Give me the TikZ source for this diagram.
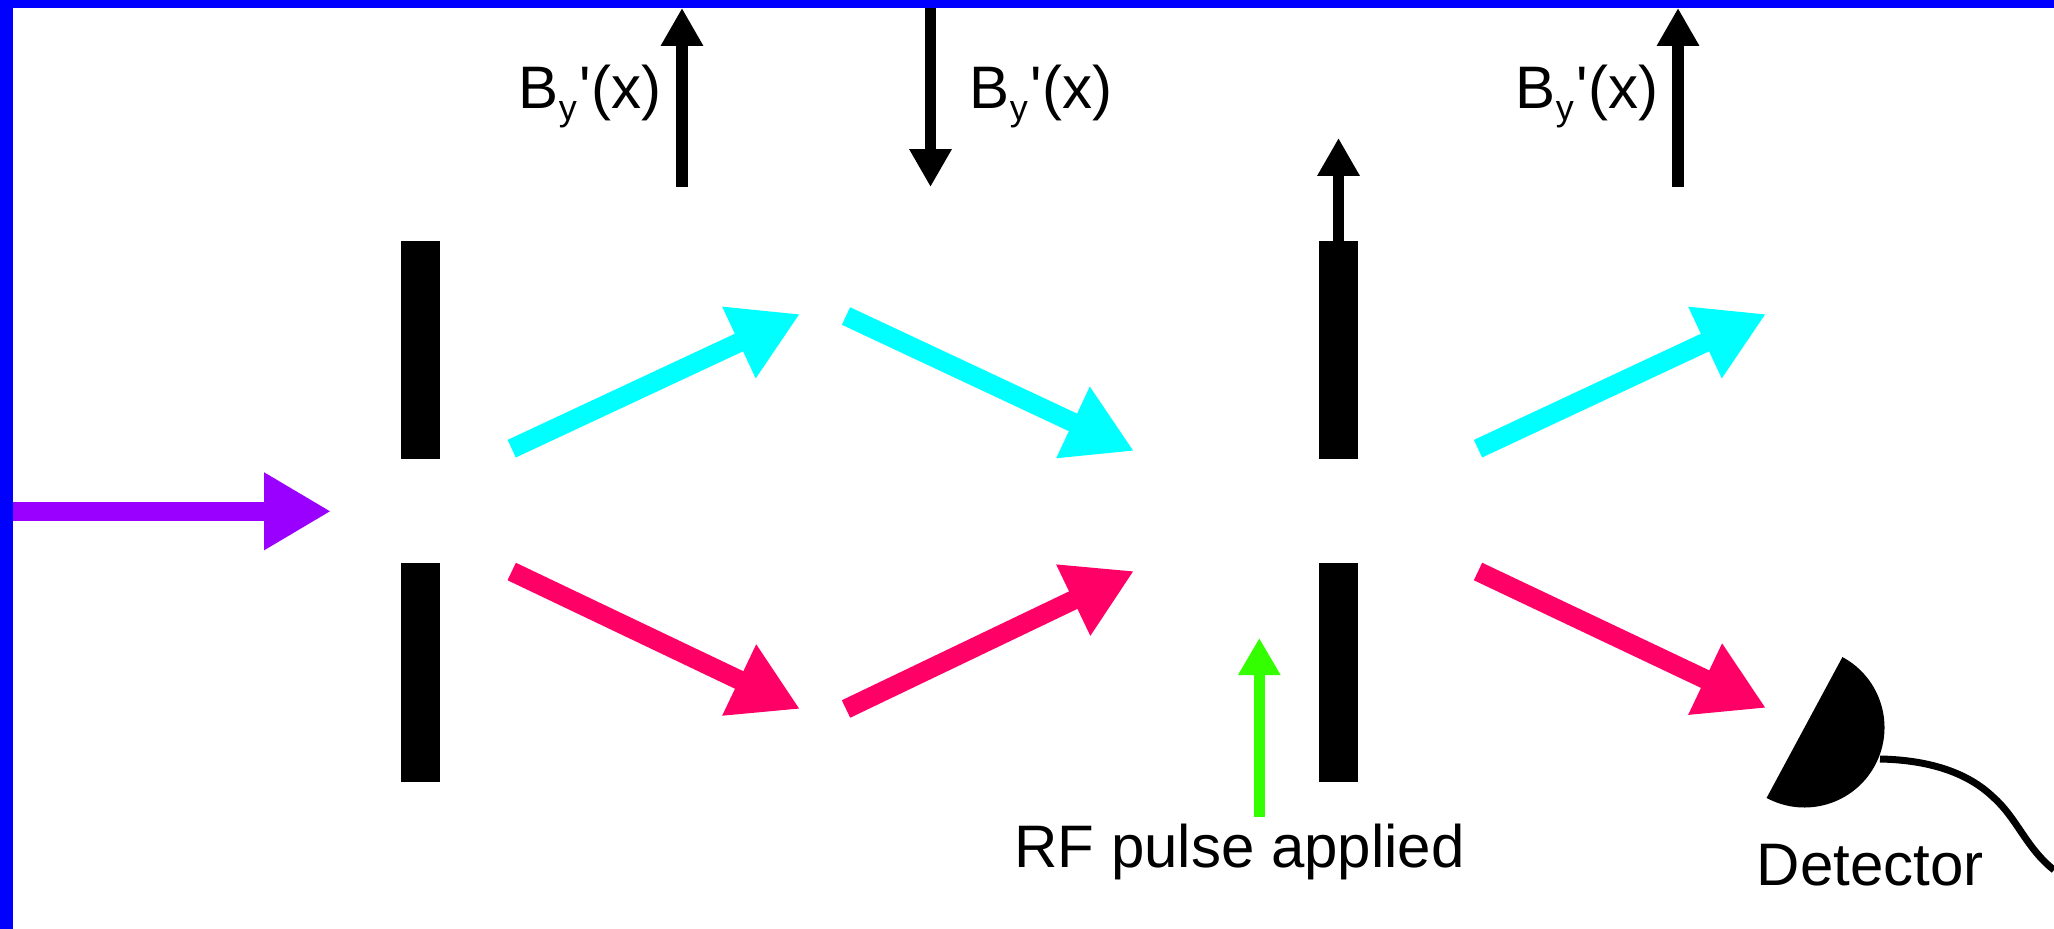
\documentclass[tikz,border=0pt]{standalone}
\usepackage{fontspec}
\newfontfamily\labfont{Liberation Sans}
\usetikzlibrary{arrows.meta}
\definecolor{beamcyan}{RGB}{0,255,255}
\definecolor{beamred}{RGB}{255,0,102}
\definecolor{beampurple}{RGB}{153,0,255}
\definecolor{beamgreen}{RGB}{51,255,0}
\definecolor{frameblue}{RGB}{0,0,255}
\tikzset{
  bigbeam/.style={line width=9.7pt,-{Triangle[length=33.7pt,width=37pt]}},
  cyanbeam/.style={bigbeam,draw=beamcyan},
  redbeam/.style={bigbeam,draw=beamred},
  purplebeam/.style={line width=9.75pt,draw=beampurple,-{Triangle[length=33.5pt,width=36.5pt]}},
  fieldarrow/.style={line width=5.7pt,draw=black,-{Triangle[length=18.9pt,width=19.9pt]}},
  greenarrow/.style={line width=5.3pt,draw=beamgreen,-{Triangle[length=18.5pt,width=19.9pt]}},
  barbox/.style={fill=black,draw=none,inner sep=0pt,minimum width=19.5pt,minimum height=109pt},
  lab/.style={inner sep=0pt,anchor=base west,font=\labfont\fontsize{30}{34}\selectfont},
}
\newcommand{\fieldlabel}{B\raisebox{-6pt}{\fontsize{18}{18}\selectfont y}\hspace{1.5pt}'(x)}
\begin{document}
\begin{tikzpicture}[x=0.5pt,y=-0.5pt]
\useasboundingbox (0,0) rectangle (2054,929);
\fill[white] (0,0) rectangle (2054,929);
\fill[frameblue] (0,0) rectangle (2054,8);
\fill[frameblue] (0,0) rectangle (13,929);
% slits
\node[barbox] (b1) at (420.5,350) {};
\node[barbox] (b2) at (420.5,672.5) {};
\node[barbox] (b3) at (1338.5,350) {};
\node[barbox] (b4) at (1338.5,672.5) {};
% coordinates
\coordinate (pS) at (13,511.3); \coordinate (pT) at (331,511.3);
\coordinate (c1S) at (511.7,448.7); \coordinate (c1T) at (800,314);
\coordinate (c2S) at (846,316); \coordinate (c2T) at (1134,451);
\coordinate (r1S) at (511.7,571.5); \coordinate (r1T) at (800,709);
\coordinate (r2S) at (846,709); \coordinate (r2T) at (1134,571);
\coordinate (c3S) at (1478,448.7); \coordinate (c3T) at (1766,314);
\coordinate (r3S) at (1478,571.5); \coordinate (r3T) at (1766,708);
\draw[purplebeam] (pS) -- (pT);
\draw[cyanbeam] (c1S) -- (c1T);
\draw[cyanbeam] (c2S) -- (c2T);
\draw[redbeam] (r1S) -- (r1T);
\draw[redbeam] (r2S) -- (r2T);
\draw[cyanbeam] (c3S) -- (c3T);
\draw[redbeam] (r3S) -- (r3T);
% field arrows
\coordinate (f1S) at (682,187); \coordinate (f1T) at (682,8);
\coordinate (f2S) at (930.5,8); \coordinate (f2T) at (930.5,187);
\coordinate (f3S) at (1678,187); \coordinate (f3T) at (1678,8);
\coordinate (f4T) at (1338.5,138);
\draw[fieldarrow] (f1S) -- (f1T);
\draw[fieldarrow] (f2S) -- (f2T);
\draw[fieldarrow] (f3S) -- (f3T);
\draw[fieldarrow] (b3.north) -- (f4T);
% rf
\coordinate (gS) at (1259.3,816.7); \coordinate (gT) at (1259.3,638);
\draw[greenarrow] (gS) -- (gT);
% labels
\node[lab] (l1) at (518.5,108.5) {\fieldlabel};
\node[lab] (l2) at (969.5,108.5) {\fieldlabel};
\node[lab] (l3) at (1515.5,108.5) {\fieldlabel};
\node[lab] (rf) at (1014,867) {RF pulse applied};
\node[lab] (det) at (1756.5,885) {Detector};
% detector
\coordinate (wS) at (1880,759); \coordinate (wM) at (1993,797); \coordinate (wE) at (2054,870);
\draw[line width=3.5pt] (wS) .. controls (1930,760) and (1968,773) .. (wM) .. controls (2017,818) and (2026,848) .. (wE);
\fill[black] (1804.5,727.5) ++(61.7:80 and -80) arc[start angle=-61.7,end angle=118.3,radius=80] -- cycle;
\end{tikzpicture}
\end{document}
